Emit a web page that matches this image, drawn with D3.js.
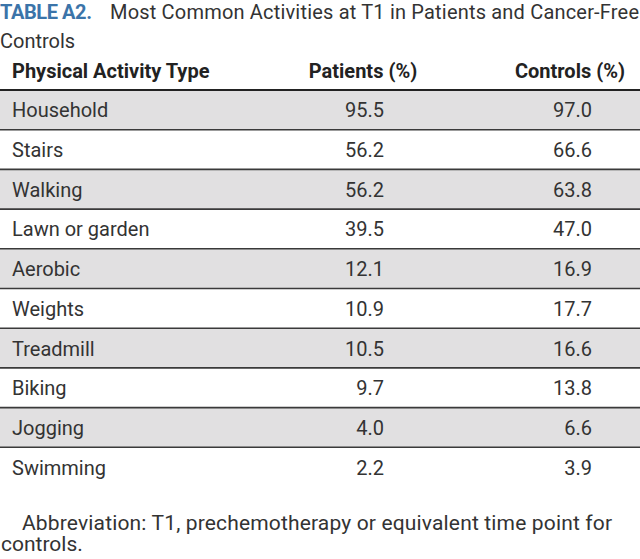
<!DOCTYPE html>
<html>
<head>
<meta charset="utf-8">
<script src="https://cdn.jsdelivr.net/npm/d3@7"></script>
<style>
  html, body { margin: 0; padding: 0; background: #fff; }
  svg { display: block; }
</style>
</head>
<body>
<div id="chart"></div>
<script>
// ---- data ----
const titleLabel = "TABLE A2.";
const titleLines = ["Most Common Activities at T1 in Patients and Cancer-Free", "Controls"];
const columns = ["Physical Activity Type", "Patients (%)", "Controls (%)"];
const activities = ["Household", "Stairs", "Walking", "Lawn or garden", "Aerobic", "Weights", "Treadmill", "Biking", "Jogging", "Swimming"];
const patients = [95.5, 56.2, 56.2, 39.5, 12.1, 10.9, 10.5, 9.7, 4.0, 2.2];
const controls = [97.0, 66.6, 63.8, 47.0, 16.9, 17.7, 16.6, 13.8, 6.6, 3.9];
const footnoteLines = ["Abbreviation: T1, prechemotherapy or equivalent time point for", "controls."];

// ---- layout ----
const W = 640, H = 559;
const font = "Roboto, 'Liberation Sans', sans-serif";
const textColor = "#333";
const blue = "#3b74a9";
const shade = "#e1e0e1";
const tableTop = 90;

const svg = d3.select("#chart").append("svg").attr("width", W).attr("height", H);

// title
svg.append("text").attr("x", 0).attr("y", 18.5)
  .attr("font-family", font).attr("font-size", 20).attr("font-weight", "bold")
  .attr("fill", blue).attr("textLength", 92).text(titleLabel);
svg.append("text").attr("x", 110).attr("y", 18.5)
  .attr("font-family", font).attr("font-size", 20).attr("fill", textColor)
  .attr("textLength", 529).text(titleLines[0]);
svg.append("text").attr("x", 0).attr("y", 48)
  .attr("font-family", font).attr("font-size", 20).attr("fill", textColor).text(titleLines[1]);

// header
const colX = [12, 384, 592];
const colAnchor = ["start", "end", "end"];
const headerX = [12, 363, 570];
const headerAnchor = ["start", "middle", "middle"];
svg.selectAll("text.hdr").data(columns).join("text").attr("class", "hdr")
  .attr("x", (d, i) => headerX[i]).attr("y", 77.5)
  .attr("text-anchor", (d, i) => headerAnchor[i])
  .attr("font-family", font).attr("font-weight", "bold").attr("font-size", 20)
  .attr("fill", "#222").text(d => d);

// rows
const y = d3.scaleBand().domain(activities).range([tableTop, tableTop + 39.7 * activities.length]);
const rows = svg.selectAll("g.row").data(activities).join("g").attr("class", "row")
  .attr("transform", d => `translate(0,${y(d)})`);
rows.append("rect").attr("x", 0).attr("width", W).attr("height", y.bandwidth())
  .attr("fill", (d, i) => i % 2 === 0 ? shade : "#fff");
rows.each(function(d, i) {
  const g = d3.select(this);
  const vals = [d, patients[i].toFixed(1), controls[i].toFixed(1)];
  vals.forEach((v, j) => {
    g.append("text").attr("x", colX[j]).attr("y", y.bandwidth() / 2 + 7.5)
      .attr("text-anchor", colAnchor[j])
      .attr("font-family", font).attr("font-size", 20).attr("fill", textColor).text(v);
  });
});
// separators
const seps = activities.slice(0, -1).map(d => y(d) + y.bandwidth());
svg.selectAll("line.sep").data(seps).join("line").attr("class", "sep")
  .attr("x1", 0).attr("x2", W).attr("y1", d => d).attr("y2", d => d)
  .attr("stroke", "#3a3a3a").attr("stroke-width", 1.6);
svg.append("line").attr("x1", 0).attr("x2", W).attr("y1", tableTop).attr("y2", tableTop)
  .attr("stroke", "#222").attr("stroke-width", 2.2);

// footnote
svg.append("text").attr("x", 22).attr("y", 529.5)
  .attr("font-family", font).attr("font-size", 21).attr("fill", textColor)
  .attr("textLength", 590).text(footnoteLines[0]);
svg.append("text").attr("x", 1).attr("y", 550.5)
  .attr("font-family", font).attr("font-size", 21).attr("fill", textColor).text(footnoteLines[1]);
</script>
</body>
</html>
